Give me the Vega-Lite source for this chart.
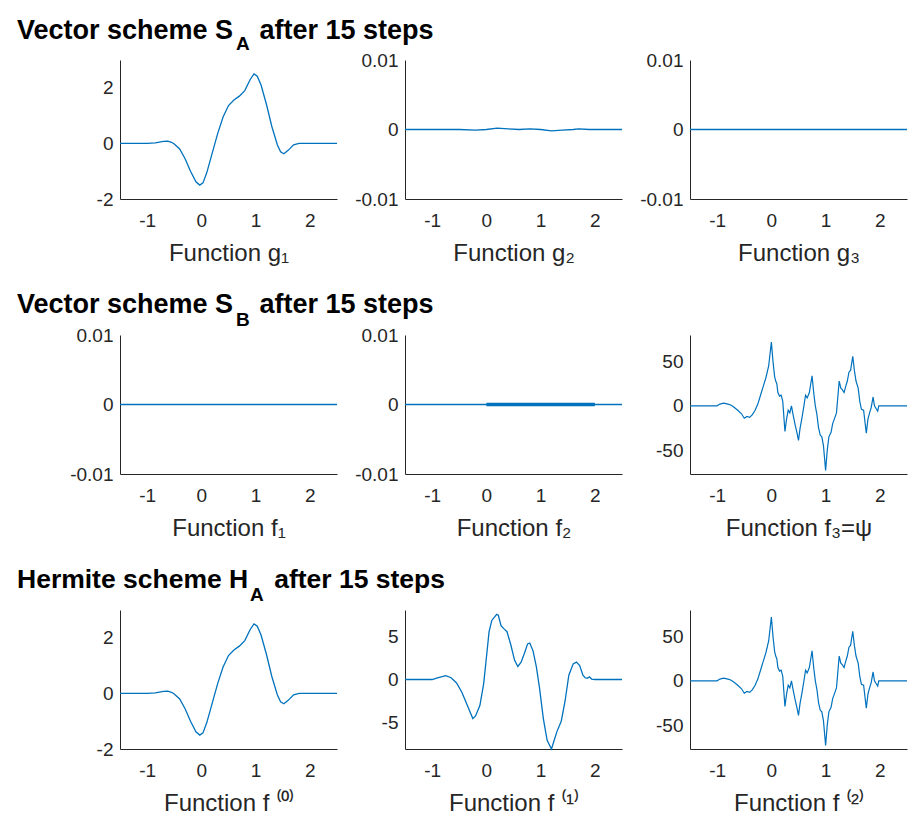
{
  "$schema": "https://vega.github.io/schema/vega-lite/v6.json",
  "padding": {"left": 17, "top": 17, "right": 0, "bottom": 0},
  "background": "white",
  "datasets": {
    "g1": [
      {"x": -1.5, "y": 0}, {"x": -1.0, "y": 0}, {"x": -0.85, "y": 0.02}, {"x": -0.7, "y": 0.07}, {"x": -0.62, "y": 0.08},
      {"x": -0.55, "y": 0.04}, {"x": -0.5, "y": -0.02}, {"x": -0.4, "y": -0.2}, {"x": -0.3, "y": -0.55}, {"x": -0.2, "y": -1.0},
      {"x": -0.1, "y": -1.38}, {"x": -0.03, "y": -1.5}, {"x": 0.03, "y": -1.42}, {"x": 0.1, "y": -1.05}, {"x": 0.2, "y": -0.35},
      {"x": 0.3, "y": 0.35}, {"x": 0.4, "y": 0.95}, {"x": 0.5, "y": 1.36}, {"x": 0.6, "y": 1.56}, {"x": 0.7, "y": 1.7},
      {"x": 0.8, "y": 1.9}, {"x": 0.9, "y": 2.3}, {"x": 0.97, "y": 2.5}, {"x": 1.03, "y": 2.42}, {"x": 1.1, "y": 2.1},
      {"x": 1.2, "y": 1.4}, {"x": 1.3, "y": 0.6}, {"x": 1.4, "y": -0.05}, {"x": 1.46, "y": -0.3}, {"x": 1.52, "y": -0.37},
      {"x": 1.6, "y": -0.25}, {"x": 1.7, "y": -0.05}, {"x": 1.8, "y": 0}, {"x": 2.5, "y": 0}
    ],
    "g2": [
      {"x": -1.5, "y": 0}, {"x": -1.0, "y": 0}, {"x": -0.5, "y": 0}, {"x": -0.2, "y": -0.0001}, {"x": 0.0, "y": 0},
      {"x": 0.2, "y": 0.0002}, {"x": 0.4, "y": 0.0001}, {"x": 0.6, "y": 0}, {"x": 0.8, "y": 0.0001}, {"x": 1.0, "y": 0},
      {"x": 1.2, "y": -0.0002}, {"x": 1.4, "y": -0.0001}, {"x": 1.6, "y": 0}, {"x": 1.7, "y": 0.0001}, {"x": 1.9, "y": 0},
      {"x": 2.5, "y": 0}
    ],
    "flat": [
      {"x": -1.5, "y": 0}, {"x": 2.5, "y": 0}
    ],
    "f2band": [
      {"x": 0.0, "y": 0}, {"x": 2.0, "y": 0}
    ],
    "f3": [
      {"x": -1.5, "y": 0}, {"x": -1.0, "y": 0}, {"x": -0.95, "y": 2}, {"x": -0.88, "y": 3}, {"x": -0.8, "y": 2},
      {"x": -0.75, "y": 1}, {"x": -0.7, "y": -1}, {"x": -0.62, "y": -5}, {"x": -0.55, "y": -9}, {"x": -0.5, "y": -14},
      {"x": -0.45, "y": -12}, {"x": -0.4, "y": -13}, {"x": -0.35, "y": -10}, {"x": -0.3, "y": -5}, {"x": -0.25, "y": 2},
      {"x": -0.2, "y": 12}, {"x": -0.15, "y": 22}, {"x": -0.1, "y": 32}, {"x": -0.05, "y": 45}, {"x": 0.0, "y": 72},
      {"x": 0.03, "y": 50}, {"x": 0.06, "y": 33}, {"x": 0.08, "y": 28}, {"x": 0.1, "y": 25}, {"x": 0.12, "y": 15},
      {"x": 0.15, "y": 11}, {"x": 0.18, "y": 12}, {"x": 0.21, "y": 5}, {"x": 0.25, "y": -29}, {"x": 0.28, "y": -15},
      {"x": 0.31, "y": -5}, {"x": 0.34, "y": -8}, {"x": 0.37, "y": 0}, {"x": 0.4, "y": -10}, {"x": 0.44, "y": -22},
      {"x": 0.47, "y": -30}, {"x": 0.5, "y": -39}, {"x": 0.53, "y": -25}, {"x": 0.56, "y": -15}, {"x": 0.6, "y": 0},
      {"x": 0.63, "y": 12}, {"x": 0.66, "y": 9}, {"x": 0.7, "y": 15}, {"x": 0.75, "y": 34}, {"x": 0.78, "y": 15},
      {"x": 0.81, "y": 0}, {"x": 0.84, "y": -10}, {"x": 0.87, "y": -25}, {"x": 0.9, "y": -33}, {"x": 0.93, "y": -35},
      {"x": 0.96, "y": -45}, {"x": 1.0, "y": -73}, {"x": 1.03, "y": -50}, {"x": 1.06, "y": -35}, {"x": 1.1, "y": -30},
      {"x": 1.13, "y": -20}, {"x": 1.16, "y": -15}, {"x": 1.2, "y": -8}, {"x": 1.25, "y": 28}, {"x": 1.28, "y": 20},
      {"x": 1.31, "y": 18}, {"x": 1.34, "y": 15}, {"x": 1.37, "y": 22}, {"x": 1.4, "y": 28}, {"x": 1.43, "y": 38},
      {"x": 1.46, "y": 40}, {"x": 1.5, "y": 56}, {"x": 1.53, "y": 40}, {"x": 1.56, "y": 28}, {"x": 1.6, "y": 20},
      {"x": 1.63, "y": 5}, {"x": 1.66, "y": -4}, {"x": 1.7, "y": -5}, {"x": 1.75, "y": -31}, {"x": 1.78, "y": -15},
      {"x": 1.81, "y": -8}, {"x": 1.84, "y": -2}, {"x": 1.875, "y": 10}, {"x": 1.9, "y": 0}, {"x": 1.93, "y": -3},
      {"x": 1.96, "y": -6}, {"x": 1.98, "y": 0}, {"x": 2.0, "y": 0}, {"x": 2.5, "y": 0}
    ],
    "fd1": [
      {"x": -1.5, "y": 0}, {"x": -1.0, "y": 0}, {"x": -0.9, "y": 0.2}, {"x": -0.75, "y": 0.45}, {"x": -0.65, "y": 0.2},
      {"x": -0.55, "y": -0.4}, {"x": -0.45, "y": -1.5}, {"x": -0.35, "y": -3.0}, {"x": -0.25, "y": -4.5}, {"x": -0.2, "y": -4.2},
      {"x": -0.12, "y": -3.0}, {"x": -0.05, "y": -0.5}, {"x": 0.0, "y": 2.5}, {"x": 0.05, "y": 5.5}, {"x": 0.1, "y": 6.8},
      {"x": 0.19, "y": 7.5}, {"x": 0.22, "y": 7.4}, {"x": 0.27, "y": 6.2}, {"x": 0.33, "y": 5.8}, {"x": 0.38, "y": 5.5},
      {"x": 0.45, "y": 4.0}, {"x": 0.52, "y": 2.2}, {"x": 0.58, "y": 1.5}, {"x": 0.64, "y": 2.0}, {"x": 0.7, "y": 3.0},
      {"x": 0.76, "y": 4.1}, {"x": 0.8, "y": 4.2}, {"x": 0.86, "y": 3.3}, {"x": 0.92, "y": 1.5}, {"x": 0.98, "y": -1.0},
      {"x": 1.05, "y": -4.5}, {"x": 1.12, "y": -7.0}, {"x": 1.2, "y": -8.0}, {"x": 1.25, "y": -7.0}, {"x": 1.3, "y": -6.0},
      {"x": 1.38, "y": -4.8}, {"x": 1.45, "y": -2.5}, {"x": 1.52, "y": 0.5}, {"x": 1.6, "y": 1.8}, {"x": 1.66, "y": 2.0},
      {"x": 1.72, "y": 1.6}, {"x": 1.78, "y": 0.5}, {"x": 1.82, "y": 0.2}, {"x": 1.86, "y": 0.15}, {"x": 1.9, "y": 0.3},
      {"x": 1.94, "y": 0.05}, {"x": 2.0, "y": 0}, {"x": 2.5, "y": 0}
    ]
  },
  "vconcat": [
    {
      "title": {"text": "Vector scheme S\u2002\u2009 after 15 steps", "offset": -10},
      "spacing": 68,
      "bounds": "flush",
      "hconcat": [
        {
          "title": {"text": "A", "dx": 116, "fontSize": 19, "offset": 6},
          "width": 217, "height": 139, "data": {"name": "g1"},
          "mark": {"type": "line", "color": "#0072BD", "strokeWidth": 1.3},
          "encoding": {
            "x": {"field": "x", "type": "quantitative", "scale": {"domain": [-1.5, 2.5], "nice": false}, "axis": {"values": [-1, 0, 1, 2], "title": "Function g\u2081"}},
            "y": {"field": "y", "type": "quantitative", "scale": {"domain": [-2, 3], "nice": false, "zero": false}, "axis": {"values": [-2, 0, 2], "title": null}}
          }
        },
        {
          "width": 217, "height": 139, "data": {"name": "g2"},
          "mark": {"type": "line", "color": "#0072BD", "strokeWidth": 1.3},
          "encoding": {
            "x": {"field": "x", "type": "quantitative", "scale": {"domain": [-1.5, 2.5], "nice": false}, "axis": {"values": [-1, 0, 1, 2], "title": "Function g\u2082"}},
            "y": {"field": "y", "type": "quantitative", "scale": {"domain": [-0.01, 0.01], "nice": false, "zero": false}, "axis": {"values": [-0.01, 0, 0.01], "title": null}}
          }
        },
        {
          "width": 217, "height": 139, "data": {"name": "flat"},
          "mark": {"type": "line", "color": "#0072BD", "strokeWidth": 1.3},
          "encoding": {
            "x": {"field": "x", "type": "quantitative", "scale": {"domain": [-1.5, 2.5], "nice": false}, "axis": {"values": [-1, 0, 1, 2], "title": "Function g\u2083"}},
            "y": {"field": "y", "type": "quantitative", "scale": {"domain": [-0.01, 0.01], "nice": false, "zero": false}, "axis": {"values": [-0.01, 0, 0.01], "title": null}}
          }
        }
      ]
    },
    {
      "title": {"text": "Vector scheme S\u2002\u2009 after 15 steps", "offset": -8},
      "spacing": 68,
      "bounds": "flush",
      "hconcat": [
        {
          "title": {"text": "B", "dx": 116, "fontSize": 19, "offset": -4},
          "width": 217, "height": 139, "data": {"name": "flat"},
          "mark": {"type": "line", "color": "#0072BD", "strokeWidth": 1.3},
          "encoding": {
            "x": {"field": "x", "type": "quantitative", "scale": {"domain": [-1.5, 2.5], "nice": false}, "axis": {"values": [-1, 0, 1, 2], "title": "Function f\u2081"}},
            "y": {"field": "y", "type": "quantitative", "scale": {"domain": [-0.01, 0.01], "nice": false, "zero": false}, "axis": {"values": [-0.01, 0, 0.01], "title": null}}
          }
        },
        {
          "width": 217, "height": 139,
          "encoding": {
            "x": {"field": "x", "type": "quantitative", "scale": {"domain": [-1.5, 2.5], "nice": false}, "axis": {"values": [-1, 0, 1, 2], "title": "Function f\u2082"}},
            "y": {"field": "y", "type": "quantitative", "scale": {"domain": [-0.01, 0.01], "nice": false, "zero": false}, "axis": {"values": [-0.01, 0, 0.01], "title": null}}
          },
          "layer": [
            {"data": {"name": "flat"}, "mark": {"type": "line", "color": "#0072BD", "strokeWidth": 1.3}},
            {"data": {"name": "f2band"}, "mark": {"type": "line", "color": "#0072BD", "strokeWidth": 3.5}}
          ]
        },
        {
          "width": 217, "height": 139, "data": {"name": "f3"},
          "mark": {"type": "line", "color": "#0072BD", "strokeWidth": 1.2},
          "encoding": {
            "x": {"field": "x", "type": "quantitative", "scale": {"domain": [-1.5, 2.5], "nice": false}, "axis": {"values": [-1, 0, 1, 2], "title": "Function f\u2083=\u03c8"}},
            "y": {"field": "y", "type": "quantitative", "scale": {"domain": [-77, 80], "nice": false, "zero": false}, "axis": {"values": [-50, 0, 50], "title": null}}
          }
        }
      ]
    },
    {
      "title": {"text": "Hermite scheme H\u2002\u2009 after 15 steps", "offset": -7, "fontSize": 26.5},
      "spacing": 68,
      "bounds": "flush",
      "hconcat": [
        {
          "title": {"text": "A", "dx": 130, "fontSize": 19, "offset": 5},
          "width": 217, "height": 139, "data": {"name": "g1"},
          "mark": {"type": "line", "color": "#0072BD", "strokeWidth": 1.3},
          "encoding": {
            "x": {"field": "x", "type": "quantitative", "scale": {"domain": [-1.5, 2.5], "nice": false}, "axis": {"values": [-1, 0, 1, 2], "title": "Function f \u207d\u2070\u207e"}},
            "y": {"field": "y", "type": "quantitative", "scale": {"domain": [-2, 3], "nice": false, "zero": false}, "axis": {"values": [-2, 0, 2], "title": null}}
          }
        },
        {
          "width": 217, "height": 139, "data": {"name": "fd1"},
          "mark": {"type": "line", "color": "#0072BD", "strokeWidth": 1.3},
          "encoding": {
            "x": {"field": "x", "type": "quantitative", "scale": {"domain": [-1.5, 2.5], "nice": false}, "axis": {"values": [-1, 0, 1, 2], "title": "Function f \u207d\u00b9\u207e"}},
            "y": {"field": "y", "type": "quantitative", "scale": {"domain": [-8, 8], "nice": false, "zero": false}, "axis": {"values": [-5, 0, 5], "title": null}}
          }
        },
        {
          "width": 217, "height": 139, "data": {"name": "f3"},
          "mark": {"type": "line", "color": "#0072BD", "strokeWidth": 1.2},
          "encoding": {
            "x": {"field": "x", "type": "quantitative", "scale": {"domain": [-1.5, 2.5], "nice": false}, "axis": {"values": [-1, 0, 1, 2], "title": "Function f \u207d\u00b2\u207e"}},
            "y": {"field": "y", "type": "quantitative", "scale": {"domain": [-77, 80], "nice": false, "zero": false}, "axis": {"values": [-50, 0, 50], "title": null}}
          }
        }
      ]
    }
  ],
  "spacing": 275,
  "bounds": "flush",
  "config": {
    "view": {"stroke": null},
    "font": "Liberation Sans",
    "axis": {
      "grid": false,
      "domainColor": "#262626",
      "domainWidth": 1,
      "ticks": false,
      "labelColor": "#262626",
      "labelFontSize": 19,
      "labelFont": "Liberation Sans",
      "titleFont": "Liberation Sans",
      "titleFontSize": 24,
      "titleFontWeight": "normal",
      "titleColor": "#262626",
      "labelExpr": "'' + datum.value"
    },
    "axisX": {"labelPadding": 12, "titlePadding": 11},
    "axisY": {"labelPadding": 7},
    "title": {
      "anchor": "start",
      "frame": "group",
      "dx": -103,
      "font": "Liberation Sans",
      "fontSize": 27,
      "fontWeight": "bold",
      "color": "#000000",
      "baseline": "alphabetic"
    }
  }
}
